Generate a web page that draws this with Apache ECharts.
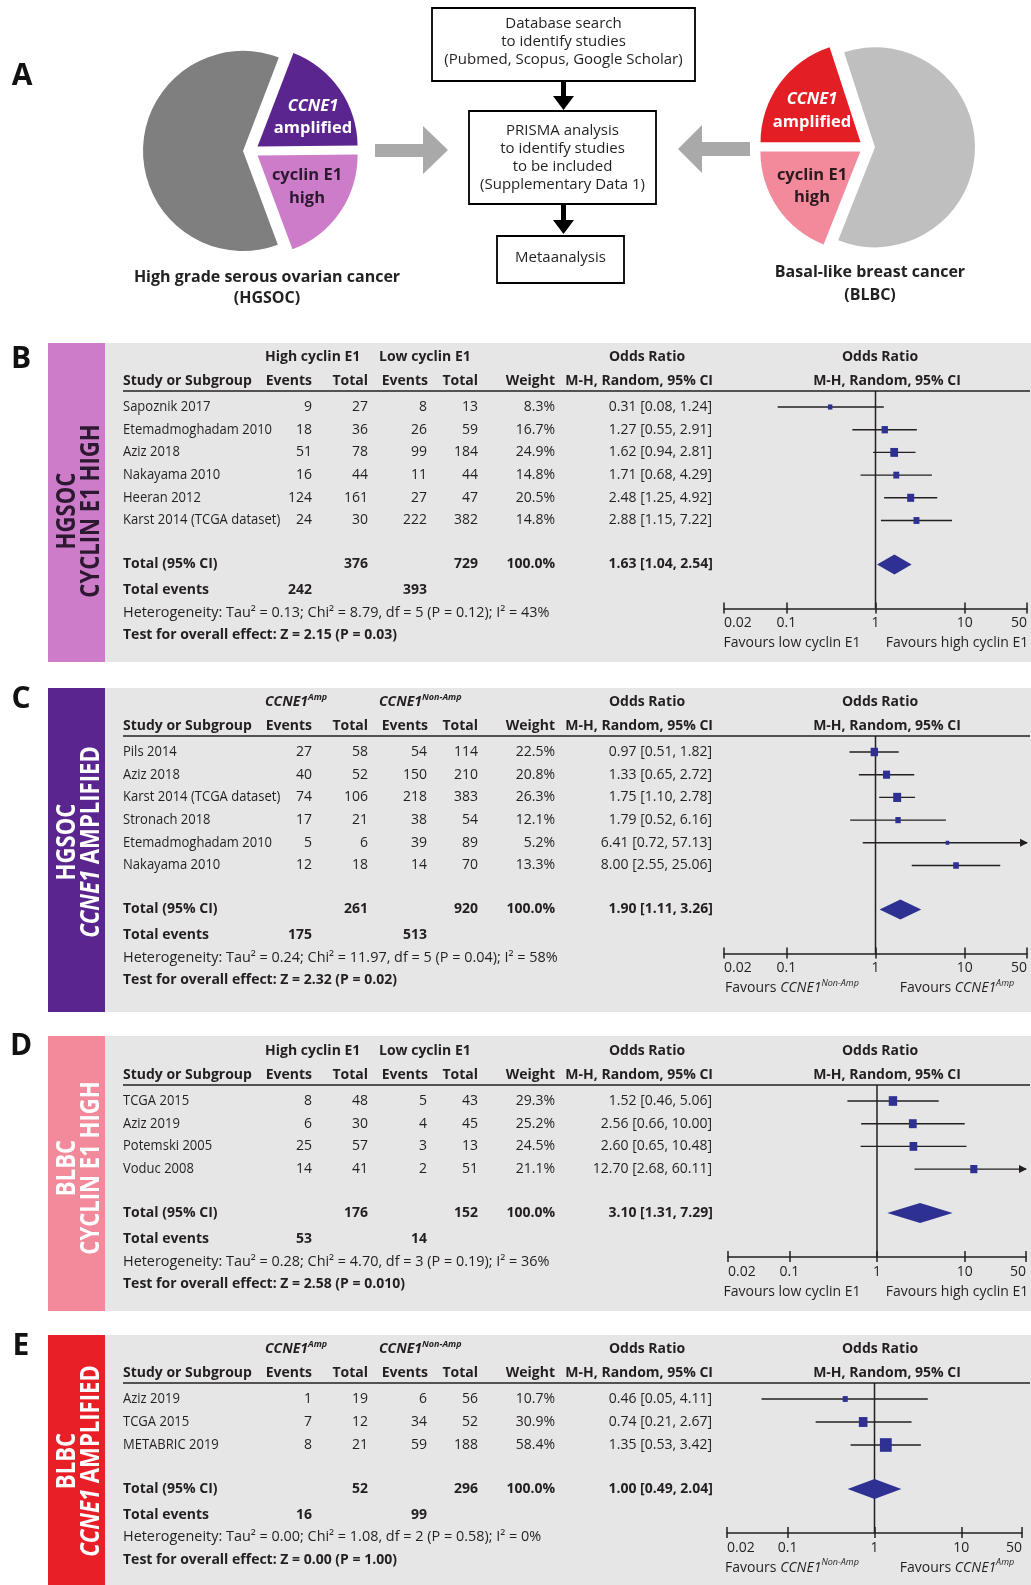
<!DOCTYPE html>
<html>
<head>
<meta charset="utf-8">
<title>Cyclin E1 / CCNE1 meta-analysis</title>
<script src="https://cdn.jsdelivr.net/npm/echarts@6/dist/echarts.min.js"></script>
<style>
  html, body { margin: 0; padding: 0; background: #ffffff; }
  #chart { width: 1031px; height: 1585px; }
</style>
</head>
<body>
<div id="chart"></div>
<script>
// ---------- Panel A: cohort composition ----------
const hgsocParts = ['CCNE1 amplified', 'cyclin E1 high', 'other HGSOC'];
const hgsocShare = [19, 19.5, 61.5];
const blbcParts = ['other BLBC', 'cyclin E1 high', 'CCNE1 amplified'];
const blbcShare = [61, 19, 20];

// ---------- Panel B: HGSOC, cyclin E1 high ----------
const studiesB = ['Sapoznik 2017', 'Etemadmoghadam 2010', 'Aziz 2018', 'Nakayama 2010', 'Heeran 2012', 'Karst 2014 (TCGA dataset)'];
const eventsExpB = [9, 18, 51, 16, 124, 24];
const totalExpB = [27, 36, 78, 44, 161, 30];
const eventsCtlB = [8, 26, 99, 11, 27, 222];
const totalCtlB = [13, 59, 184, 44, 47, 382];
const weightB = [8.3, 16.7, 24.9, 14.8, 20.5, 14.8];
const orB = [0.31, 1.27, 1.62, 1.71, 2.48, 2.88];
const loB = [0.08, 0.55, 0.94, 0.68, 1.25, 1.15];
const hiB = [1.24, 2.91, 2.81, 4.29, 4.92, 7.22];
const pooledB = [1.63, 1.04, 2.54];
const sumTotalsB = [376, 729];
const sumEventsB = [242, 393];
const hetB = 'Heterogeneity: Tau² = 0.13; Chi² = 8.79, df = 5 (P = 0.12); I² = 43%';
const effectB = 'Test for overall effect: Z = 2.15 (P = 0.03)';

// ---------- Panel C: HGSOC, CCNE1 amplified ----------
const studiesC = ['Pils 2014', 'Aziz 2018', 'Karst 2014 (TCGA dataset)', 'Stronach 2018', 'Etemadmoghadam 2010', 'Nakayama 2010'];
const eventsExpC = [27, 40, 74, 17, 5, 12];
const totalExpC = [58, 52, 106, 21, 6, 18];
const eventsCtlC = [54, 150, 218, 38, 39, 14];
const totalCtlC = [114, 210, 383, 54, 89, 70];
const weightC = [22.5, 20.8, 26.3, 12.1, 5.2, 13.3];
const orC = [0.97, 1.33, 1.75, 1.79, 6.41, 8.00];
const loC = [0.51, 0.65, 1.10, 0.52, 0.72, 2.55];
const hiC = [1.82, 2.72, 2.78, 6.16, 57.13, 25.06];
const pooledC = [1.90, 1.11, 3.26];
const sumTotalsC = [261, 920];
const sumEventsC = [175, 513];
const hetC = 'Heterogeneity: Tau² = 0.24; Chi² = 11.97, df = 5 (P = 0.04); I² = 58%';
const effectC = 'Test for overall effect: Z = 2.32 (P = 0.02)';

// ---------- Panel D: BLBC, cyclin E1 high ----------
const studiesD = ['TCGA 2015', 'Aziz 2019', 'Potemski 2005', 'Voduc 2008'];
const eventsExpD = [8, 6, 25, 14];
const totalExpD = [48, 30, 57, 41];
const eventsCtlD = [5, 4, 3, 2];
const totalCtlD = [43, 45, 13, 51];
const weightD = [29.3, 25.2, 24.5, 21.1];
const orD = [1.52, 2.56, 2.60, 12.70];
const loD = [0.46, 0.66, 0.65, 2.68];
const hiD = [5.06, 10.00, 10.48, 60.11];
const pooledD = [3.10, 1.31, 7.29];
const sumTotalsD = [176, 152];
const sumEventsD = [53, 14];
const hetD = 'Heterogeneity: Tau² = 0.28; Chi² = 4.70, df = 3 (P = 0.19); I² = 36%';
const effectD = 'Test for overall effect: Z = 2.58 (P = 0.010)';

// ---------- Panel E: BLBC, CCNE1 amplified ----------
const studiesE = ['Aziz 2019', 'TCGA 2015', 'METABRIC 2019'];
const eventsExpE = [1, 7, 8];
const totalExpE = [19, 12, 21];
const eventsCtlE = [6, 34, 59];
const totalCtlE = [56, 52, 188];
const weightE = [10.7, 30.9, 58.4];
const orE = [0.46, 0.74, 1.35];
const loE = [0.05, 0.21, 0.53];
const hiE = [4.11, 2.67, 3.42];
const pooledE = [1.00, 0.49, 2.04];
const sumTotalsE = [52, 296];
const sumEventsE = [16, 99];
const hetE = 'Heterogeneity: Tau² = 0.00; Chi² = 1.08, df = 2 (P = 0.58); I² = 0%';
const effectE = 'Test for overall effect: Z = 0.00 (P = 1.00)';

// ---------- styling ----------
const FONT = '"Open Sans", "Noto Sans", "DejaVu Sans", sans-serif';
const INK = '#231f20';
const MARK = '#2e3192';
const PANEL_BG = '#e6e6e6';
const AX_MIN = 0.02, AX_MAX = 50;
const BOX_K = 1.55;   // box side grows with sqrt(weight)

const el = [];
function text(x, y, s, o, extra) {
  el.push(Object.assign({
    type: 'text', x: x, y: y, z: 20, silent: true,
    style: Object.assign({
      text: s, fill: INK, fontFamily: FONT, fontSize: 14, fontWeight: 'normal',
      textAlign: 'left', textVerticalAlign: 'middle'
    }, o || {})
  }, extra || {}));
}
function rect(x, y, w, h, fill, z) {
  el.push({ type: 'rect', z: z || 0, silent: true, shape: { x: x, y: y, width: w, height: h }, style: { fill: fill } });
}
function box(x, y, w, h) {
  el.push({ type: 'rect', z: 5, silent: true, shape: { x: x, y: y, width: w, height: h }, style: { fill: '#fff', stroke: '#000', lineWidth: 1.8 } });
}
function hline(x1, x2, y, w) {
  el.push({ type: 'line', z: 6, silent: true, shape: { x1: x1, y1: y, x2: x2, y2: y }, style: { stroke: INK, lineWidth: w || 1.5 } });
}
function poly(points, fill) {
  el.push({ type: 'polygon', z: 5, silent: true, shape: { points: points }, style: { fill: fill } });
}

// ---------- Panel A drawing ----------
text(22, 76, 'A', { fontSize: 30, fontWeight: 'bold', textAlign: 'center', fill: '#111' });

// flow chart
box(432, 8, 263, 73);
box(469, 111, 187, 93);
box(497, 236, 127, 47);
['Database search', 'to identify studies', '(Pubmed, Scopus, Google Scholar)'].forEach((s, i) =>
  text(563.5, 24 + i * 18, s, { fontSize: 15, textAlign: 'center' }));
['PRISMA analysis', 'to identify studies', 'to be included', '(Supplementary Data 1)'].forEach((s, i) =>
  text(562.5, 131 + i * 18, s, { fontSize: 15, textAlign: 'center' }));
text(560.5, 258, 'Metaanalysis', { fontSize: 15, textAlign: 'center' });
poly([[561, 81], [566, 81], [566, 96], [574, 96], [563.5, 110], [553, 96], [561, 96]], '#000');
poly([[561, 204], [566, 204], [566, 220], [574, 220], [563.5, 234], [553, 220], [561, 220]], '#000');

// grey arrows towards the flow chart
poly([[375, 144], [423, 144], [423, 126], [448, 150], [423, 174], [423, 157], [375, 157]], '#a9a9a9');
poly([[750, 142], [702, 142], [702, 125], [678, 149], [702, 173], [702, 156], [750, 156]], '#a9a9a9');

// pie slice captions
const pieBold = { fontSize: 16.5, fontWeight: 'bold', textAlign: 'center' };
text(313, 106, 'CCNE1', Object.assign({}, pieBold, { fill: '#fff', fontStyle: 'italic' }));
text(313, 128, 'amplified', Object.assign({}, pieBold, { fill: '#fff' }));
text(307, 175, 'cyclin E1', Object.assign({}, pieBold, { fill: '#2b1a2e' }));
text(307, 198, 'high', Object.assign({}, pieBold, { fill: '#2b1a2e' }));
text(812, 99, 'CCNE1', Object.assign({}, pieBold, { fill: '#fff', fontStyle: 'italic' }));
text(812, 122, 'amplified', Object.assign({}, pieBold, { fill: '#fff' }));
text(812, 175, 'cyclin E1', Object.assign({}, pieBold, { fill: '#2b1a1e' }));
text(812, 197, 'high', Object.assign({}, pieBold, { fill: '#2b1a1e' }));
text(267, 277, 'High grade serous ovarian cancer', { fontSize: 16, fontWeight: 'bold', textAlign: 'center', fill: '#222' });
text(267, 298, '(HGSOC)', { fontSize: 16, fontWeight: 'bold', textAlign: 'center', fill: '#222' });
text(870, 272, 'Basal-like breast cancer', { fontSize: 16, fontWeight: 'bold', textAlign: 'center', fill: '#222' });
text(870, 295, '(BLBC)', { fontSize: 16, fontWeight: 'bold', textAlign: 'center', fill: '#222' });

// ---------- Forest panels ----------
const richHdr = {
  i: { fontFamily: FONT, fontSize: 14, fontWeight: 'bold', fontStyle: 'italic', fill: INK, lineHeight: 20 },
  s: { fontFamily: FONT, fontSize: 9, fontWeight: 'bold', fontStyle: 'italic', fill: INK, lineHeight: 11, verticalAlign: 'top' }
};
const richFav = {
  f: { fontFamily: FONT, fontSize: 14, fontStyle: 'italic', fill: INK, lineHeight: 20 },
  s: { fontFamily: FONT, fontSize: 9, fontStyle: 'italic', fill: INK, lineHeight: 11, verticalAlign: 'top' },
  n: { fontFamily: FONT, fontSize: 14, fill: INK, lineHeight: 20 }
};

const panels = [
  { letter: 'B', letterY: 359, bgTop: 343, bgBottom: 662, row0: 407, step: 22.7, plotLeft: 724, plotRight: 1027,
    strip: '#cd7cc9', stripInk: '#2c1830', stripText: 'HGSOC\nCYCLIN E1 HIGH', stripY: 511, amp: false,
    studies: studiesB, evE: eventsExpB, totE: totalExpB, evC: eventsCtlB, totC: totalCtlB, w: weightB,
    or: orB, lo: loB, hi: hiB, pooled: pooledB, sums: sumTotalsB, events: sumEventsB, het: hetB, effect: effectB },
  { letter: 'C', letterY: 699, bgTop: 688, bgBottom: 1012, row0: 752, step: 22.7, plotLeft: 724, plotRight: 1027,
    strip: '#5b2590', stripInk: '#ffffff', stripText: 'HGSOC\n{i|CCNE1} AMPLIFIED', stripY: 842, amp: true,
    studies: studiesC, evE: eventsExpC, totE: totalExpC, evC: eventsCtlC, totC: totalCtlC, w: weightC,
    or: orC, lo: loC, hi: hiC, pooled: pooledC, sums: sumTotalsC, events: sumEventsC, het: hetC, effect: effectC },
  { letter: 'D', letterY: 1046, bgTop: 1036, bgBottom: 1311, row0: 1101, step: 22.7, plotLeft: 728, plotRight: 1026,
    strip: '#f28a9b', stripInk: '#ffffff', stripText: 'BLBC\nCYCLIN E1 HIGH', stripY: 1168, amp: false,
    studies: studiesD, evE: eventsExpD, totE: totalExpD, evC: eventsCtlD, totC: totalCtlD, w: weightD,
    or: orD, lo: loD, hi: hiD, pooled: pooledD, sums: sumTotalsD, events: sumEventsD, het: hetD, effect: effectD },
  { letter: 'E', letterY: 1346, bgTop: 1335, bgBottom: 1585, row0: 1399, step: 23, plotLeft: 727, plotRight: 1022,
    strip: '#e81f27', stripInk: '#ffffff', stripText: 'BLBC\n{i|CCNE1} AMPLIFIED', stripY: 1461, amp: true,
    studies: studiesE, evE: eventsExpE, totE: totalExpE, evC: eventsCtlE, totC: totalCtlE, w: weightE,
    or: orE, lo: loE, hi: hiE, pooled: pooledE, sums: sumTotalsE, events: sumEventsE, het: hetE, effect: effectE }
];

const grids = [], xAxes = [], yAxes = [], series = [];
const fmtCI = (o, l, h) => o.toFixed(2) + ' [' + l.toFixed(2) + ', ' + h.toFixed(2) + ']';

panels.forEach((p, g) => {
  const n = p.studies.length;
  const rowY = i => p.row0 + i * p.step;
  const totalIdx = (n - 1) + 44 / p.step;
  const totalY = rowY(totalIdx);
  const axisY = totalY + 44;
  const underY = p.row0 - 16;

  // panel background + coloured side strip
  rect(105, p.bgTop, 926, p.bgBottom - p.bgTop, PANEL_BG, 0);
  rect(48, p.bgTop, 57, p.bgBottom - p.bgTop, p.strip, 0);
  el.push({
    type: 'text', x: 79.5, y: p.stripY, rotation: Math.PI / 2, scaleX: 0.85, z: 20, silent: true,
    style: { text: p.stripText, fill: p.stripInk, fontFamily: FONT, fontSize: 26, fontWeight: 'bold',
      lineHeight: 24, textAlign: 'center', textVerticalAlign: 'middle',
      rich: { i: { fontFamily: FONT, fontSize: 26, fontWeight: 'bold', fontStyle: 'italic', fill: p.stripInk, lineHeight: 24 } } }
  });
  text(21, p.letterY, p.letter, { fontSize: 30, fontWeight: 'bold', textAlign: 'center', fill: '#111' });

  // column headers
  const h1 = p.row0 - 49.5, h2 = p.row0 - 26;
  if (p.amp) {
    text(265, h1, '{i|CCNE1}{s|Amp}', { rich: richHdr });
    text(379, h1, '{i|CCNE1}{s|Non-Amp}', { rich: richHdr });
  } else {
    text(265, h1, 'High cyclin E1', { fontWeight: 'bold' });
    text(379, h1, 'Low cyclin E1', { fontWeight: 'bold' });
  }
  const B = { fontWeight: 'bold' };
  const BR = { fontWeight: 'bold', textAlign: 'right' };
  const R = { textAlign: 'right' };
  text(647, h1, 'Odds Ratio', { fontWeight: 'bold', textAlign: 'center' });
  text(880, h1, 'Odds Ratio', { fontWeight: 'bold', textAlign: 'center' });
  text(123, h2, 'Study or Subgroup', B);
  text(312, h2, 'Events', BR);
  text(368, h2, 'Total', BR);
  text(428, h2, 'Events', BR);
  text(478, h2, 'Total', BR);
  text(555, h2, 'Weight', BR);
  text(713, h2, 'M-H, Random, 95% CI', BR);
  text(887, h2, 'M-H, Random, 95% CI', { fontWeight: 'bold', textAlign: 'center' });
  hline(123, 1030, underY, 1.5);

  // study rows
  p.studies.forEach((s, i) => {
    const y = rowY(i);
    text(123, y, s, null, { scaleX: 0.93 });
    text(312, y, String(p.evE[i]), R);
    text(368, y, String(p.totE[i]), R);
    text(427, y, String(p.evC[i]), R);
    text(478, y, String(p.totC[i]), R);
    text(555, y, p.w[i].toFixed(1) + '%', R);
    text(712, y, fmtCI(p.or[i], p.lo[i], p.hi[i]), R);
  });

  // pooled rows and statistics
  text(123, totalY, 'Total (95% CI)', B);
  text(368, totalY, String(p.sums[0]), BR);
  text(478, totalY, String(p.sums[1]), BR);
  text(555, totalY, '100.0%', BR);
  text(713, totalY, fmtCI(p.pooled[0], p.pooled[1], p.pooled[2]), BR);
  text(123, totalY + 26, 'Total events', B);
  text(312, totalY + 26, String(p.events[0]), BR);
  text(427, totalY + 26, String(p.events[1]), BR);
  text(123, totalY + 48.5, p.het, null, { scaleX: 1.03 });
  text(123, totalY + 71, p.effect, B);

  // favours captions under the axis
  if (p.amp) {
    text(792, axisY + 35, '{n|Favours }{f|CCNE1}{s|Non-Amp}', { rich: richFav, textAlign: 'center' });
    text(957, axisY + 35, '{n|Favours }{f|CCNE1}{s|Amp}', { rich: richFav, textAlign: 'center' });
  } else {
    text(792, axisY + 35, 'Favours low cyclin E1', { textAlign: 'center' });
    text(957, axisY + 35, 'Favours high cyclin E1', { textAlign: 'center' });
  }

  // forest plot coordinate system
  const yMin = -16 / p.step, yMax = (axisY - p.row0) / p.step;
  grids.push({ left: p.plotLeft, width: p.plotRight - p.plotLeft, top: underY, height: axisY - underY, show: false });
  const baseX = {
    type: 'log', logBase: 10, min: AX_MIN, max: AX_MAX, gridIndex: g, position: 'bottom', z: 10,
    splitLine: { show: false }, minorTick: { show: false }, minorSplitLine: { show: false }
  };
  xAxes.push(Object.assign({}, baseX, {
    axisLine: { show: true, onZero: false, lineStyle: { color: INK, width: 1.5 } },
    axisTick: { show: true, inside: false, length: 5, lineStyle: { color: INK, width: 1.5 } },
    axisLabel: {
      show: true, color: INK, fontFamily: FONT, fontSize: 14, margin: 8,
      showMinLabel: true, showMaxLabel: true, hideOverlap: false,
      alignMinLabel: 'left', alignMaxLabel: 'right',
      formatter: v => String(+Number(v).toPrecision(2))
    }
  }));
  xAxes.push(Object.assign({}, baseX, {
    axisLine: { show: false, onZero: false },
    axisTick: { show: true, inside: true, length: 6, lineStyle: { color: INK, width: 1.5 } },
    axisLabel: { show: false }
  }));
  yAxes.push({ type: 'value', gridIndex: g, inverse: true, min: yMin, max: yMax, show: false });

  // line of no effect
  series.push({
    type: 'custom', coordinateSystem: 'cartesian2d', xAxisIndex: 2 * g, yAxisIndex: g, silent: true, clip: false, z: 3,
    data: [[1]],
    encode: { x: 0 },
    renderItem: (params, api) => {
      const a = api.coord([api.value(0), yMin]);
      const b = api.coord([api.value(0), yMax]);
      return { type: 'line', shape: { x1: a[0], y1: a[1], x2: b[0], y2: b[1] }, style: { stroke: INK, lineWidth: 1.5 } };
    }
  });

  // study estimates: CI whisker + weighted box
  series.push({
    type: 'custom', coordinateSystem: 'cartesian2d', xAxisIndex: 2 * g, yAxisIndex: g, silent: true, clip: false, z: 4,
    data: p.studies.map((s, i) => [p.or[i], p.lo[i], p.hi[i], i, p.w[i]]),
    encode: { x: [0, 1, 2], y: 3 },
    renderItem: (params, api) => {
      const y = api.value(3);
      const c = api.coord([api.value(0), y]);
      const xl = api.coord([Math.max(api.value(1), AX_MIN), y])[0];
      const xh = api.coord([Math.min(api.value(2), AX_MAX), y])[0];
      const s = BOX_K * Math.sqrt(api.value(4));
      const kids = [
        { type: 'line', shape: { x1: xl, y1: c[1], x2: xh, y2: c[1] }, style: { stroke: INK, lineWidth: 1.4 } }
      ];
      if (api.value(2) > AX_MAX) {
        kids.push({ type: 'polygon', shape: { points: [[xh + 1, c[1]], [xh - 7, c[1] - 4], [xh - 7, c[1] + 4]] }, style: { fill: INK } });
      }
      kids.push({ type: 'rect', shape: { x: c[0] - s / 2, y: c[1] - s * 0.575, width: s, height: s * 1.15 }, style: { fill: MARK } });
      return { type: 'group', children: kids };
    }
  });

  // pooled estimate diamond
  series.push({
    type: 'custom', coordinateSystem: 'cartesian2d', xAxisIndex: 2 * g, yAxisIndex: g, silent: true, clip: false, z: 4,
    data: [[p.pooled[0], p.pooled[1], p.pooled[2], totalIdx]],
    encode: { x: [0, 1, 2], y: 3 },
    renderItem: (params, api) => {
      const y = api.value(3);
      const c = api.coord([api.value(0), y]);
      const l = api.coord([api.value(1), y]);
      const r = api.coord([api.value(2), y]);
      return { type: 'polygon', shape: { points: [[l[0], c[1]], [c[0], c[1] - 10], [r[0], c[1]], [c[0], c[1] + 10]] }, style: { fill: MARK } };
    }
  });
});

// ---------- cohort pies ----------
const hgsocColors = ['#5b2590', '#cd7cc9', '#7f7f7f'];
const blbcColors = ['#bfbfbf', '#f28a9b', '#e31e25'];
function pie(center, start, names, shares, colors) {
  return {
    type: 'pie', center: center, radius: 100, startAngle: start, clockwise: true,
    selectedMode: 'multiple', selectedOffset: 8, silent: true, z: 2,
    label: { show: false }, labelLine: { show: false }, emphasis: { disabled: true },
    select: { itemStyle: { borderWidth: 0 } },
    itemStyle: { borderWidth: 0 },
    data: names.map((nm, i) => ({ name: nm, value: shares[i], selected: true, itemStyle: { color: colors[i] },
      select: { itemStyle: { color: colors[i], borderWidth: 0 } } }))
  };
}
series.push(pie([251, 151], 69, hgsocParts, hgsocShare, hgsocColors));
series.push(pie([867, 147], 108, blbcParts, blbcShare, blbcColors));

const chart = echarts.init(document.getElementById('chart'), null, { renderer: 'canvas' });
chart.setOption({
  animation: false,
  backgroundColor: '#ffffff',
  textStyle: { fontFamily: FONT },
  grid: grids,
  xAxis: xAxes,
  yAxis: yAxes,
  series: series,
  graphic: { elements: el }
});
</script>
</body>
</html>
